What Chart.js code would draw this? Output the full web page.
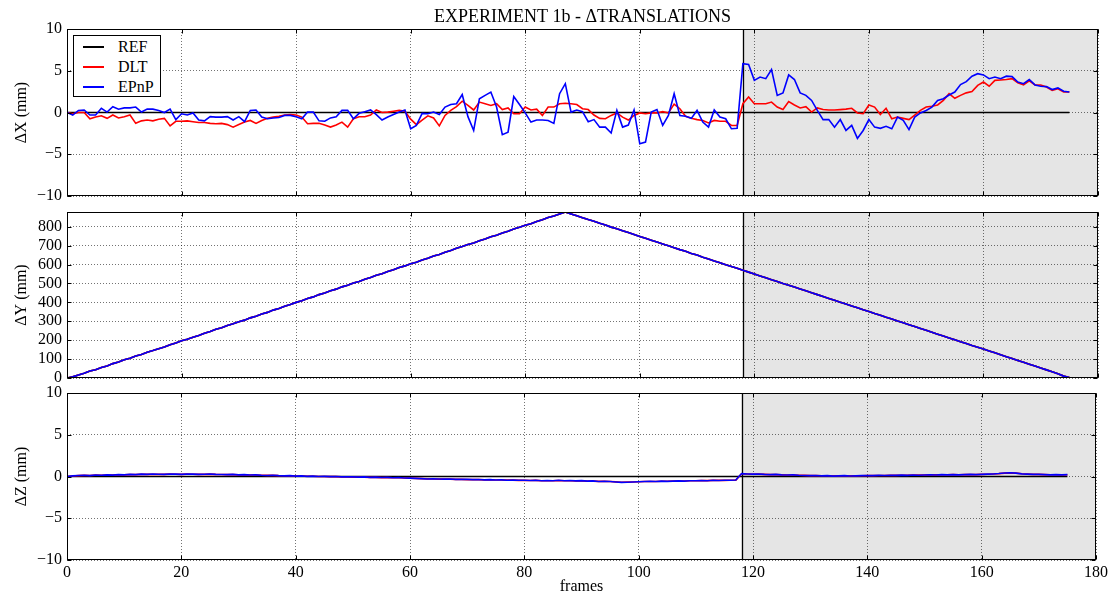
<!DOCTYPE html>
<html>
<head>
<meta charset="utf-8">
<script src="https://cdn.jsdelivr.net/npm/chart.js@4/dist/chart.umd.min.js"></script>
<style>
html, body { margin: 0; padding: 0; background: #fff; overflow: hidden; }
#wrap { position: relative; width: 1113px; height: 595px; }
#wrap canvas { position: absolute; left: 0; }
#legend {
    position: absolute; left: 73px; top: 35px; width: 88px; height: 62px;
    background: #fff; border: 1px solid #000; box-sizing: border-box;
    font-family: "Liberation Serif", serif; font-size: 16px; color: #000;
}
#legend .row { position: absolute; left: 0; height: 20px; line-height: 20px; }
#legend .sw { position: absolute; left: 9px; top: 9px; width: 21px; height: 2px; }
#legend .lb { position: absolute; left: 44px; top: 0; white-space: nowrap; }
</style>
</head>
<body>
<div id="wrap">
    <canvas id="panelX" width="1113" height="204" style="top:0px"></canvas>
    <canvas id="panelY" width="1113" height="182" style="top:204px"></canvas>
    <canvas id="panelZ" width="1113" height="210" style="top:385px"></canvas>
    <div id="legend">
        <div class="row" style="top:1px"><div class="sw" style="background:#000"></div><span class="lb">REF</span></div>
        <div class="row" style="top:21px"><div class="sw" style="background:#f00"></div><span class="lb">DLT</span></div>
        <div class="row" style="top:41px"><div class="sw" style="background:#00f"></div><span class="lb">EPnP</span></div>
    </div>
</div>
<script>
// frames 0..175
const frames = [];
for (let i = 0; i <= 175; i++) frames.push(i);

const seriesNames = ['REF', 'DLT', 'EPnP'];
const splitFrame = 118;   // start of grey region

// ΔX (mm)
const dltX = [
    0, -0.15, 0, 0, -0.75, -0.55, -0.4, -0.7, -0.3, -0.65,
    -0.5, -0.3, -1.3, -1.0, -0.9, -1.0, -0.8, -0.7, -1.6, -1.05,
    -1.05, -1.0, -1.1, -1.2, -1.2, -1.3, -1.35, -1.3, -1.45, -1.75,
    -1.45, -1.15, -0.95, -1.3, -0.95, -0.7, -0.55, -0.45, -0.3, -0.25,
    -0.3, -0.55, -1.35, -1.3, -1.3, -1.5, -1.75, -1.5, -1.15, -1.75,
    -0.75, -0.5, -0.5, -0.3, 0.3, 0, 0.05, 0.15, 0.25, 0.15,
    -0.8, -1.45, -0.9, -0.4, -0.65, -1.6, -0.35, 0.25, 0.7, 1.35,
    0.85, 0.3, 1.25, 1.05, 0.85, 1.05, 0.35, 0.55, -0.15, -0.15,
    0.65, 0.3, 0.4, -0.35, 0.65, 0.65, 1.05, 1.1, 1.05, 0.95,
    0.45, 0.35, -0.3, -0.7, -0.75, -0.35, -0.05, -0.55, -0.9, -0.35,
    -0.05, -0.15, -0.05, -0.05, 0.1, -0.05, 1.0, 0.45, -0.45, -0.7,
    -0.85, -0.95, -1.25, -0.95, -1.05, -1.05, -1.55, -1.55, 1.05, 1.85,
    1.05, 1.05, 1.05, 1.25, 0.65, 0.35, 1.3, 0.9, 0.55, 0.7,
    0.05, 0.55, 0.35, 0.3, 0.3, 0.35, 0.4, 0.5, -0.05, -0.15,
    0.9, 0.65, -0.25, 0.5, -0.75, -0.55, -0.7, -0.85, -0.3, 0.25,
    0.65, 0.75, 0.9, 1.45, 2.25, 1.7, 2.05, 2.35, 2.5, 3.25,
    3.65, 3.15, 3.85, 3.9, 3.95, 4.05, 3.55, 3.3, 3.8, 3.3,
    3.3, 3.05, 2.65, 2.85, 2.45, 2.45
];
const epnpX = [
    0, -0.3, 0.25, 0.3, -0.3, -0.3, 0.5, 0.05, 0.7, 0.4,
    0.55, 0.55, 0.65, 0.05, 0.4, 0.4, 0.25, 0, 0.4, -0.85,
    -0.15, -0.3, -0.05, -0.9, -1.0, -0.5, -0.55, -0.55, -0.5, -0.9,
    -0.5, -1.1, 0.25, 0.3, -0.55, -0.75, -0.65, -0.6, -0.35, -0.35,
    -0.5, -0.75, 0.05, 0.05, -1.0, -1.05, -0.65, -0.5, 0.25, 0.25,
    -0.75, -0.1, 0.1, 0.3, -0.25, -0.9, -0.55, -0.25, 0.05, 0.3,
    -1.95, -1.55, -0.1, -0.15, 0.05, -0.25, 0.65, 0.95, 1.05, 2.15,
    -0.5, -2.15, 1.65, 2.05, 2.45, 0.65, -2.65, -2.35, 1.9, 0.95,
    -0.05, -1.15, -0.9, -0.9, -0.95, -1.3, 2.25, 3.45, 0.05, 0.3,
    0.1, -1.1, -0.85, -1.75, -1.75, -2.45, 0.25, -1.75, -1.5, 0.3,
    -3.75, -3.55, 0.05, 0.35, -1.55, -0.35, 2.25, -0.35, -0.45, -0.7,
    0.25, -1.15, -1.75, 0.3, -0.55, -0.75, -1.95, -1.9, 5.85, 5.75,
    3.85, 4.25, 4.05, 5.15, 2.05, 2.35, 4.5, 3.95, 2.35, 2.05,
    1.45, 0.25, -0.85, -0.85, -1.75, -0.85, -2.15, -1.55, -3.1, -2.15,
    -0.85, -1.75, -1.9, -1.65, -1.95, -0.55, -0.95, -2.05, -0.55, -0.05,
    0.25, 0.65, 1.45, 1.65, 2.1, 2.45, 3.35, 3.7, 4.35, 4.65,
    4.5, 4.05, 4.25, 4.05, 4.35, 4.3, 3.65, 3.45, 3.95, 3.3,
    3.15, 3.1, 2.75, 2.95, 2.55, 2.45
];

// ΔY (mm): the three curves overlap in the picture
const refY = [
    0, 6, 16, 25, 37, 44, 56, 64, 76, 85,
    96, 104, 116, 124, 136, 145, 155, 164, 176, 185,
    197, 205, 216, 225, 237, 246, 258, 266, 278, 287,
    298, 306, 318, 327, 339, 347, 359, 368, 380, 389,
    400, 408, 420, 429, 441, 449, 461, 470, 482, 491,
    502, 510, 522, 531, 543, 551, 563, 572, 584, 593,
    604, 612, 624, 633, 645, 653, 665, 674, 686, 695,
    706, 714, 726, 735, 747, 755, 767, 776, 788, 797,
    808, 816, 828, 837, 849, 857, 868, 878, 868, 858,
    848, 838, 829, 818, 809, 798, 789, 779, 769, 759,
    749, 739, 729, 719, 709, 699, 689, 679, 670, 659,
    650, 639, 630, 619, 610, 599, 590, 580, 570, 560,
    550, 540, 530, 520, 511, 500, 491, 481, 471, 461,
    451, 441, 431, 421, 411, 401, 391, 381, 371, 361,
    352, 341, 332, 321, 312, 301, 292, 282, 272, 262,
    252, 242, 232, 222, 212, 202, 192, 183, 172, 163,
    153, 143, 133, 123, 113, 103, 93, 83, 73, 63,
    53, 43, 33, 22, 10, 3
];
const dltY = refY;
const epnpY = refY;

// ΔZ (mm)
const dltZ = [
    0, 0.06, 0.1, 0.14, 0.12, 0.16, 0.15, 0.18, 0.18, 0.2,
    0.2, 0.22, 0.22, 0.25, 0.25, 0.27, 0.26, 0.25, 0.28, 0.27,
    0.25, 0.28, 0.27, 0.25, 0.26, 0.28, 0.25, 0.24, 0.22, 0.23,
    0.2, 0.2, 0.18, 0.18, 0.15, 0.13, 0.13, 0.1, 0.09, 0.08,
    0.05, 0.06, 0.03, 0.03, 0.0, 0.0, -0.02, -0.02, -0.05, -0.05,
    -0.07, -0.08, -0.08, -0.1, -0.1, -0.13, -0.12, -0.15, -0.15, -0.18,
    -0.2, -0.23, -0.25, -0.28, -0.3, -0.31, -0.32, -0.32, -0.35, -0.35,
    -0.37, -0.38, -0.38, -0.4, -0.4, -0.42, -0.42, -0.44, -0.44, -0.46,
    -0.47, -0.48, -0.47, -0.5, -0.5, -0.5, -0.48, -0.5, -0.5, -0.52,
    -0.52, -0.55, -0.55, -0.58, -0.58, -0.6, -0.64, -0.68, -0.67, -0.65,
    -0.63, -0.6, -0.6, -0.6, -0.57, -0.57, -0.55, -0.53, -0.53, -0.5,
    -0.5, -0.49, -0.49, -0.47, -0.47, -0.46, -0.45, -0.43, 0.32, 0.3,
    0.27, 0.28, 0.25, 0.23, 0.23, 0.2, 0.18, 0.18, 0.15, 0.13,
    0.11, 0.11, 0.09, 0.09, 0.07, 0.08, 0.09, 0.07, 0.08, 0.09,
    0.11, 0.1, 0.12, 0.12, 0.14, 0.13, 0.15, 0.15, 0.16, 0.16,
    0.18, 0.19, 0.19, 0.21, 0.21, 0.22, 0.21, 0.22, 0.24, 0.23,
    0.25, 0.27, 0.3, 0.34, 0.4, 0.43, 0.4, 0.33, 0.29, 0.26,
    0.25, 0.23, 0.21, 0.21, 0.2, 0.21
];
const epnpZ = [
    0, 0.08, 0.12, 0.15, 0.1, 0.18, 0.15, 0.2, 0.17, 0.22,
    0.2, 0.25, 0.22, 0.28, 0.25, 0.3, 0.27, 0.25, 0.3, 0.28,
    0.26, 0.3, 0.28, 0.25, 0.27, 0.3, 0.26, 0.24, 0.22, 0.25,
    0.2, 0.22, 0.18, 0.2, 0.15, 0.12, 0.15, 0.1, 0.08, 0.1,
    0.05, 0.08, 0.02, 0.05, 0.0, 0.02, -0.02, 0.0, -0.05, -0.03,
    -0.05, -0.08, -0.05, -0.1, -0.08, -0.12, -0.1, -0.15, -0.12, -0.18,
    -0.2, -0.22, -0.25, -0.3, -0.28, -0.3, -0.32, -0.3, -0.35, -0.33,
    -0.35, -0.38, -0.36, -0.4, -0.38, -0.42, -0.4, -0.45, -0.42, -0.45,
    -0.45, -0.48, -0.45, -0.5, -0.48, -0.5, -0.45, -0.5, -0.48, -0.52,
    -0.5, -0.55, -0.52, -0.6, -0.58, -0.6, -0.65, -0.7, -0.68, -0.65,
    -0.62, -0.6, -0.58, -0.6, -0.55, -0.58, -0.55, -0.52, -0.55, -0.5,
    -0.5, -0.48, -0.5, -0.45, -0.48, -0.45, -0.45, -0.42, 0.35, 0.3,
    0.28, 0.3, 0.25, 0.22, 0.25, 0.2, 0.18, 0.2, 0.15, 0.12,
    0.1, 0.12, 0.08, 0.1, 0.05, 0.08, 0.1, 0.06, 0.08, 0.1,
    0.12, 0.1, 0.14, 0.12, 0.15, 0.13, 0.16, 0.14, 0.18, 0.15,
    0.18, 0.2, 0.18, 0.22, 0.2, 0.22, 0.2, 0.22, 0.25, 0.22,
    0.25, 0.28, 0.3, 0.35, 0.42, 0.45, 0.4, 0.32, 0.28, 0.25,
    0.25, 0.22, 0.2, 0.22, 0.2, 0.22
];
const refZero = frames.map(() => 0);

const FONT = '"Liberation Serif", "Times New Roman", serif';
const lineColors = ['#000000', '#ff0000', '#0000ff'];
const shadeColor = '#e5e5e5';
const gridColor = 'rgba(0,0,0,0.55)';

const minus = v => String(v).replace('-', '\u2212');

function toPoints(arr) {
    return frames.map((f, i) => ({ x: f, y: arr[i] }));
}

// grey region, split line, frame and inward ticks like matplotlib
const panelDecor = {
    id: 'panelDecor',
    beforeDraw(chart) {
        const { ctx, chartArea: a, scales } = chart;
        const xs = scales.x.getPixelForValue(splitFrame);
        ctx.save();
        ctx.fillStyle = shadeColor;
        ctx.fillRect(xs, a.top, a.right - xs, a.bottom - a.top);
        ctx.restore();
    },
    beforeDatasetsDraw(chart) {
        const { ctx, chartArea: a, scales } = chart;
        const xs = Math.round(scales.x.getPixelForValue(splitFrame)) + 0.5;
        ctx.save();
        ctx.strokeStyle = '#000';
        ctx.lineWidth = 1.3;
        ctx.beginPath();
        ctx.moveTo(xs, a.top);
        ctx.lineTo(xs, a.bottom);
        ctx.stroke();
        ctx.restore();
    },
    afterDatasetsDraw(chart) {
        const { ctx, chartArea: a, scales } = chart;
        const L = Math.round(a.left) + 0.5, R = Math.round(a.right) - 0.5;
        const T = Math.round(a.top) + 0.5, B = Math.round(a.bottom) - 0.5;
        ctx.save();
        ctx.strokeStyle = '#000';
        ctx.lineWidth = 1;
        ctx.beginPath();
        scales.x.ticks.forEach(t => {
            const px = Math.round(scales.x.getPixelForValue(t.value)) + 0.5;
            ctx.moveTo(px, T); ctx.lineTo(px, T + 4);
            ctx.moveTo(px, B); ctx.lineTo(px, B - 4);
        });
        scales.y.ticks.forEach(t => {
            const py = Math.round(scales.y.getPixelForValue(t.value)) + 0.5;
            ctx.moveTo(L, py); ctx.lineTo(L + 4, py);
            ctx.moveTo(R, py); ctx.lineTo(R - 4, py);
        });
        ctx.stroke();
        ctx.strokeRect(L, T, R - L, B - T);
        ctx.restore();
    }
};

function makePanel(canvasId, cfg) {
    const datasets = cfg.series.map((arr, i) => ({
        label: seriesNames[i],
        data: toPoints(arr),
        borderColor: lineColors[i],
        borderWidth: 1.6,
        pointRadius: 0,
        tension: 0,
        fill: false,
        order: 3 - i
    }));
    return new Chart(document.getElementById(canvasId), {
        type: 'line',
        data: { datasets },
        plugins: [panelDecor],
        options: {
            responsive: false,
            animation: false,
            events: [],
            layout: { padding: { left: 0, right: 15, top: 0, bottom: 0 } },
            plugins: {
                legend: { display: false },
                tooltip: { enabled: false },
                title: cfg.title ? {
                    display: true,
                    text: cfg.title,
                    fullSize: false,
                    color: '#000',
                    font: { family: FONT, size: 18, weight: 'normal' },
                    padding: { top: 6, bottom: 1.4 }
                } : { display: false }
            },
            scales: {
                x: {
                    type: 'linear',
                    min: 0,
                    max: 180,
                    ticks: {
                        stepSize: 20,
                        display: cfg.showX,
                        color: '#000',
                        padding: 5,
                        maxRotation: 0,
                        font: { family: FONT, size: 16, lineHeight: 1 },
                        callback: minus
                    },
                    grid: { color: gridColor, lineWidth: 1, drawTicks: false },
                    border: { display: false, dash: [1, 2] },
                    title: {
                        display: cfg.showX,
                        text: 'frames',
                        color: '#000',
                        font: { family: FONT, size: 16, lineHeight: 1 },
                        padding: { top: 0, bottom: 0 }
                    },
                    afterFit: s => { s.height = cfg.xHeight; }
                },
                y: {
                    min: cfg.yMin,
                    max: cfg.yMax,
                    ticks: {
                        color: '#000',
                        padding: 0,
                        font: { family: FONT, size: 16, lineHeight: 1 },
                        callback: minus
                    },
                    grid: {
                        color: gridColor, lineWidth: 1,
                        drawTicks: true, tickLength: 5, tickColor: 'rgba(0,0,0,0)'
                    },
                    border: { display: false, dash: [1, 2] },
                    title: {
                        display: true,
                        text: cfg.yLabel,
                        color: '#000',
                        font: { family: FONT, size: 16 },
                        padding: { top: 12, bottom: 0 }
                    },
                    afterBuildTicks: s => {
                        s.ticks = cfg.yTicks.map(v => ({ value: v }));
                    },
                    afterFit: s => { s.width = 67; }
                }
            }
        }
    });
}

makePanel('panelX', {
    series: [refZero, dltX, epnpX],
    title: 'EXPERIMENT 1b - \u0394TRANSLATIONS',
    yLabel: '\u0394X (mm)',
    yMin: -10, yMax: 10, yTicks: [-10, -5, 0, 5, 10],
    xHeight: 0, showX: false
});

makePanel('panelY', {
    series: [refY, dltY, epnpY],
    yLabel: '\u0394Y (mm)',
    yMin: 0, yMax: 878, yTicks: [0, 100, 200, 300, 400, 500, 600, 700, 800],
    xHeight: 0, showX: false
});

makePanel('panelZ', {
    series: [refZero, dltZ, epnpZ],
    yLabel: '\u0394Z (mm)',
    yMin: -10, yMax: 10, yTicks: [-10, -5, 0, 5, 10],
    xHeight: 35, showX: true
});
</script>
</body>
</html>
